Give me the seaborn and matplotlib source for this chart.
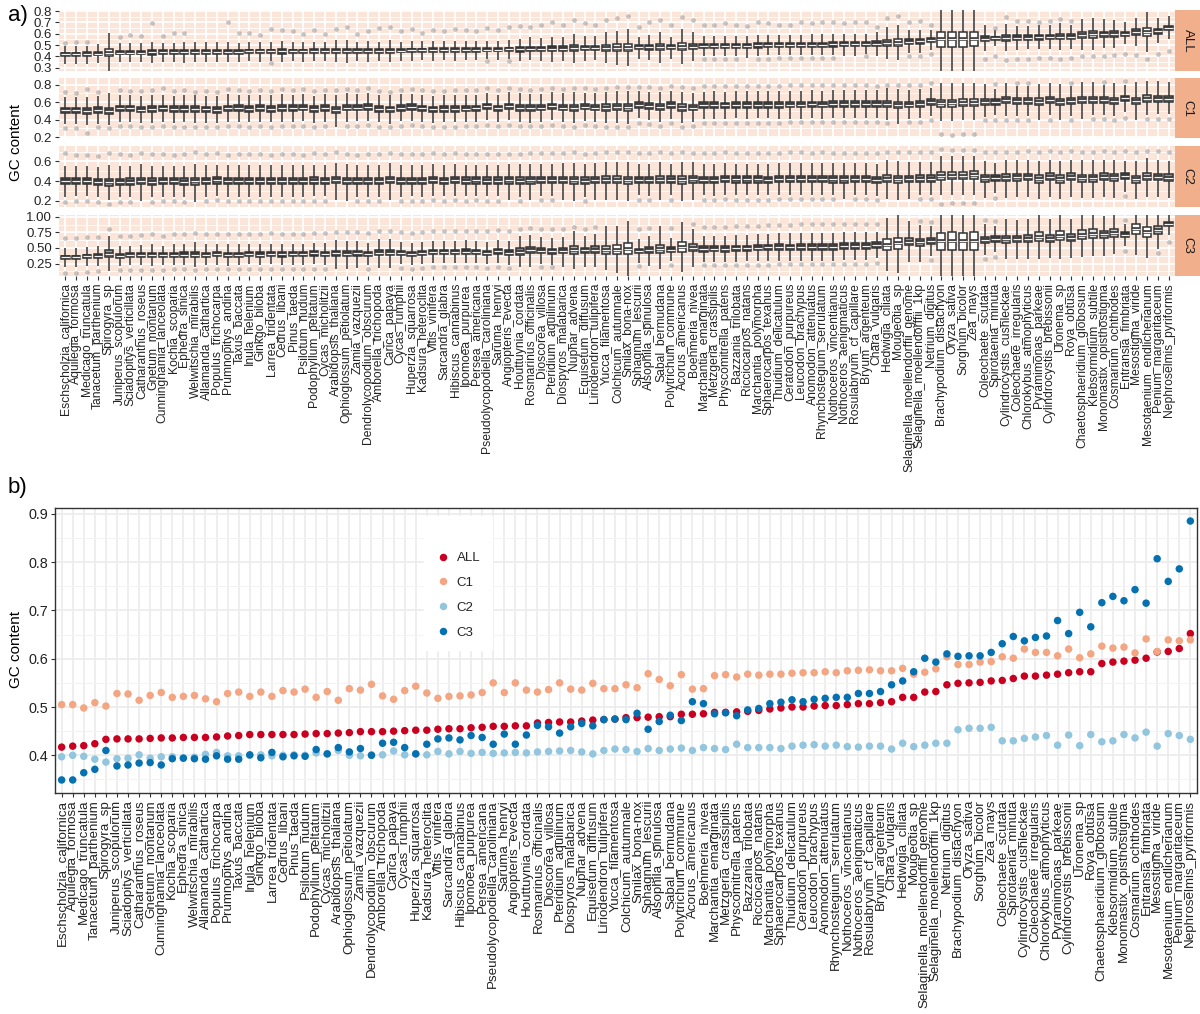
import numpy as np
import pandas as pd
import matplotlib
matplotlib.use("Agg")
import matplotlib.pyplot as plt
import matplotlib.patheffects as pe
from matplotlib.ticker import MultipleLocator, FormatStrFormatter, FixedLocator
import seaborn as sns

species = [
    "Eschscholzia_californica", "Aquilegia_formosa", "Medicago_truncatula", "Tanacetum_parthenium",
    "Spirogyra_sp", "Juniperus_scopulorum", "Sciadopitys_verticillata", "Catharanthus_roseus",
    "Gnetum_montanum", "Cunninghamia_lanceolata", "Kochia_scoparia", "Ephedra_sinica",
    "Welwitschia_mirabilis", "Allamanda_cathartica", "Populus_trichocarpa", "Prumnopitys_andina",
    "Taxus_baccata", "Inula_helenium", "Ginkgo_biloba", "Larrea_tridentata", "Cedrus_libani",
    "Pinus_taeda", "Psilotum_nudum", "Podophyllum_peltatum", "Cycas_micholitzii",
    "Arabidopsis_thaliana", "Ophioglossum_petiolatum", "Zamia_vazquezii",
    "Dendrolycopodium_obscurum", "Amborella_trichopoda", "Carica_papaya", "Cycas_rumphii",
    "Huperzia_squarrosa", "Kadsura_heteroclita", "Vitis_vinifera", "Sarcandra_glabra",
    "Hibiscus_cannabinus", "Ipomoea_purpurea", "Persea_americana",
    "Pseudolycopodiella_caroliniana", "Saruma_henryi", "Angiopteris_evecta", "Houttuynia_cordata",
    "Rosmarinus_officinalis", "Dioscorea_villosa", "Pteridium_aquilinum", "Diospyros_malabarica",
    "Nuphar_advena", "Equisetum_diffusum", "Liriodendron_tulipifera", "Yucca_filamentosa",
    "Colchicum_autumnale", "Smilax_bona-nox", "Sphagnum_lescurii", "Alsophila_spinulosa",
    "Sabal_bermudana", "Polytrichum_commune", "Acorus_americanus", "Boehmeria_nivea",
    "Marchantia_emarginata", "Metzgeria_crassipilis", "Physcomitrella_patens",
    "Bazzania_trilobata", "Ricciocarpos_natans", "Marchantia_polymorpha",
    "Sphaerocarpos_texanus", "Thuidium_delicatulum", "Ceratodon_purpureus", "Leucodon_brachypus",
    "Anomodon_attenuatus", "Rhynchostegium_serrulatum", "Nothoceros_vincentianus",
    "Nothoceros_aenigmaticus", "Rosulabryum_cf_capillare", "Bryum_argenteum", "Chara_vulgaris",
    "Hedwigia_ciliata", "Mougeotia_sp", "Selaginella_moellendorffii_genome",
    "Selaginella_moellendorffii_1kp", "Netrium_digitus", "Brachypodium_distachyon",
    "Oryza_sativa", "Sorghum_bicolor", "Zea_mays", "Coleochaete_scutata", "Spirotaenia_minuta",
    "Cylindrocystis_cushleckae", "Coleochaete_irregularis", "Chlorokybus_atmophyticus",
    "Pyramimonas_parkeae", "Cylindrocystis_brebissonii", "Uronema_sp", "Roya_obtusa",
    "Chaetosphaeridium_globosum", "Klebsormidium_subtile", "Monomastix_opisthostigma",
    "Cosmarium_ochthodes", "Entransia_fimbriata", "Mesostigma_viride",
    "Mesotaenium_endlicherianum", "Penium_margaritaceum", "Nephroselmis_pyriformis",
]

components = ["ALL", "C1", "C2", "C3"]

# median GC content per species (all codon positions, then positions 1-3)
gc_all = [
    0.417, 0.419, 0.420, 0.424, 0.433, 0.434, 0.434, 0.434, 0.435, 0.436,
    0.436, 0.437, 0.437, 0.437, 0.438, 0.440, 0.441, 0.443, 0.443, 0.443,
    0.443, 0.443, 0.444, 0.445, 0.445, 0.446, 0.447, 0.449, 0.449, 0.449,
    0.450, 0.451, 0.452, 0.452, 0.454, 0.455, 0.455, 0.457, 0.458, 0.460,
    0.460, 0.461, 0.461, 0.467, 0.468, 0.469, 0.469, 0.471, 0.473, 0.474,
    0.475, 0.478, 0.478, 0.479, 0.480, 0.480, 0.485, 0.485, 0.486, 0.489,
    0.489, 0.490, 0.491, 0.493, 0.496, 0.498, 0.500, 0.500, 0.502, 0.503,
    0.503, 0.505, 0.507, 0.507, 0.509, 0.511, 0.520, 0.520, 0.531, 0.532,
    0.546, 0.549, 0.550, 0.551, 0.554, 0.555, 0.559, 0.564, 0.564, 0.566,
    0.568, 0.571, 0.573, 0.573, 0.590, 0.593, 0.595, 0.597, 0.601, 0.614,
    0.615, 0.621, 0.652,
]
gc_c1 = [
    0.505, 0.505, 0.498, 0.509, 0.502, 0.528, 0.527, 0.514, 0.524, 0.530,
    0.520, 0.522, 0.524, 0.517, 0.511, 0.528, 0.531, 0.522, 0.531, 0.522,
    0.534, 0.531, 0.537, 0.520, 0.532, 0.514, 0.538, 0.535, 0.547, 0.523,
    0.516, 0.534, 0.543, 0.529, 0.518, 0.522, 0.523, 0.525, 0.530, 0.550,
    0.530, 0.550, 0.535, 0.531, 0.536, 0.550, 0.537, 0.535, 0.549, 0.538,
    0.538, 0.546, 0.540, 0.569, 0.557, 0.544, 0.567, 0.537, 0.538, 0.565,
    0.567, 0.562, 0.568, 0.566, 0.568, 0.568, 0.570, 0.571, 0.571, 0.573,
    0.571, 0.575, 0.576, 0.577, 0.575, 0.575, 0.580, 0.568, 0.572, 0.579,
    0.604, 0.588, 0.588, 0.593, 0.594, 0.604, 0.601, 0.620, 0.613, 0.613,
    0.606, 0.620, 0.602, 0.610, 0.626, 0.622, 0.624, 0.612, 0.641, 0.615,
    0.639, 0.637, 0.639,
]
gc_c2 = [
    0.397, 0.400, 0.398, 0.392, 0.386, 0.393, 0.394, 0.401, 0.394, 0.397,
    0.397, 0.395, 0.396, 0.402, 0.406, 0.399, 0.399, 0.400, 0.401, 0.399,
    0.400, 0.401, 0.400, 0.405, 0.403, 0.410, 0.400, 0.399, 0.401, 0.401,
    0.409, 0.401, 0.403, 0.401, 0.408, 0.403, 0.408, 0.404, 0.406, 0.404,
    0.405, 0.406, 0.405, 0.407, 0.408, 0.409, 0.410, 0.407, 0.403, 0.410,
    0.413, 0.412, 0.408, 0.414, 0.410, 0.413, 0.415, 0.410, 0.416, 0.414,
    0.412, 0.423, 0.416, 0.416, 0.416, 0.414, 0.419, 0.421, 0.422, 0.419,
    0.421, 0.418, 0.417, 0.419, 0.419, 0.413, 0.425, 0.418, 0.421, 0.425,
    0.425, 0.453, 0.456, 0.456, 0.458, 0.430, 0.430, 0.435, 0.438, 0.441,
    0.421, 0.442, 0.420, 0.443, 0.428, 0.430, 0.443, 0.436, 0.448, 0.419,
    0.445, 0.441, 0.433,
]
gc_c3 = [
    0.349, 0.349, 0.364, 0.371, 0.410, 0.378, 0.380, 0.384, 0.385, 0.380,
    0.393, 0.394, 0.393, 0.392, 0.399, 0.392, 0.392, 0.401, 0.395, 0.406,
    0.397, 0.399, 0.398, 0.412, 0.403, 0.416, 0.407, 0.414, 0.400, 0.425,
    0.427, 0.416, 0.403, 0.423, 0.434, 0.436, 0.432, 0.441, 0.437, 0.423,
    0.444, 0.423, 0.442, 0.462, 0.459, 0.446, 0.459, 0.466, 0.461, 0.474,
    0.475, 0.474, 0.487, 0.454, 0.470, 0.483, 0.472, 0.511, 0.507, 0.486,
    0.488, 0.482, 0.494, 0.497, 0.507, 0.510, 0.515, 0.511, 0.516, 0.518,
    0.520, 0.520, 0.528, 0.528, 0.532, 0.546, 0.554, 0.573, 0.601, 0.593,
    0.610, 0.605, 0.606, 0.606, 0.613, 0.631, 0.646, 0.637, 0.644, 0.647,
    0.679, 0.652, 0.696, 0.666, 0.716, 0.729, 0.720, 0.743, 0.715, 0.807,
    0.760, 0.786, 0.885,
]

# interquartile range of the per-gene GC distributions
iqr_all = [
    0.030, 0.030, 0.030, 0.032, 0.065, 0.032, 0.032, 0.032, 0.038, 0.032,
    0.032, 0.036, 0.036, 0.032, 0.032, 0.036, 0.032, 0.032, 0.032, 0.032,
    0.036, 0.032, 0.032, 0.032, 0.032, 0.038, 0.038, 0.032, 0.036, 0.032,
    0.038, 0.032, 0.032, 0.032, 0.032, 0.032, 0.032, 0.032, 0.032, 0.032,
    0.032, 0.032, 0.038, 0.040, 0.038, 0.040, 0.042, 0.050, 0.042, 0.042,
    0.055, 0.060, 0.065, 0.036, 0.042, 0.055, 0.036, 0.062, 0.050, 0.036,
    0.036, 0.036, 0.036, 0.036, 0.036, 0.036, 0.036, 0.036, 0.036, 0.036,
    0.036, 0.036, 0.036, 0.036, 0.036, 0.042, 0.055, 0.062, 0.042, 0.042,
    0.036, 0.130, 0.135, 0.130, 0.130, 0.042, 0.028, 0.048, 0.042, 0.042,
    0.042, 0.042, 0.048, 0.042, 0.055, 0.055, 0.048, 0.048, 0.036, 0.048,
    0.070, 0.042, 0.040,
]
iqr_c1 = [
    0.062, 0.062, 0.066, 0.062, 0.066, 0.062, 0.062, 0.062, 0.064, 0.062,
    0.062, 0.062, 0.064, 0.062, 0.062, 0.064, 0.062, 0.062, 0.062, 0.062,
    0.064, 0.062, 0.062, 0.062, 0.062, 0.068, 0.066, 0.062, 0.064, 0.062,
    0.066, 0.062, 0.062, 0.062, 0.062, 0.062, 0.062, 0.062, 0.062, 0.062,
    0.062, 0.064, 0.066, 0.066, 0.064, 0.064, 0.066, 0.070, 0.064, 0.066,
    0.070, 0.072, 0.074, 0.062, 0.064, 0.070, 0.062, 0.072, 0.068, 0.062,
    0.062, 0.062, 0.062, 0.062, 0.062, 0.062, 0.064, 0.064, 0.064, 0.064,
    0.064, 0.064, 0.064, 0.064, 0.064, 0.064, 0.072, 0.074, 0.066, 0.066,
    0.064, 0.080, 0.080, 0.080, 0.080, 0.070, 0.060, 0.070, 0.068, 0.068,
    0.072, 0.068, 0.072, 0.068, 0.072, 0.070, 0.068, 0.070, 0.060, 0.074,
    0.074, 0.068, 0.068,
]
iqr_c2 = [
    0.062, 0.062, 0.062, 0.062, 0.070, 0.064, 0.064, 0.068, 0.064, 0.064,
    0.064, 0.064, 0.070, 0.064, 0.064, 0.064, 0.064, 0.064, 0.064, 0.064,
    0.066, 0.064, 0.064, 0.064, 0.064, 0.070, 0.068, 0.064, 0.066, 0.066,
    0.068, 0.064, 0.064, 0.064, 0.064, 0.064, 0.064, 0.064, 0.064, 0.064,
    0.064, 0.066, 0.068, 0.068, 0.066, 0.066, 0.068, 0.072, 0.066, 0.068,
    0.072, 0.074, 0.076, 0.064, 0.066, 0.072, 0.064, 0.074, 0.070, 0.064,
    0.064, 0.064, 0.064, 0.064, 0.064, 0.064, 0.066, 0.066, 0.066, 0.066,
    0.066, 0.066, 0.066, 0.066, 0.066, 0.066, 0.074, 0.076, 0.068, 0.068,
    0.066, 0.080, 0.080, 0.080, 0.080, 0.070, 0.062, 0.072, 0.070, 0.070,
    0.074, 0.070, 0.074, 0.070, 0.074, 0.072, 0.070, 0.072, 0.062, 0.074,
    0.076, 0.070, 0.070,
]
iqr_c3 = [
    0.060, 0.060, 0.060, 0.062, 0.110, 0.064, 0.064, 0.066, 0.070, 0.064,
    0.066, 0.068, 0.080, 0.066, 0.066, 0.070, 0.066, 0.066, 0.066, 0.066,
    0.070, 0.066, 0.066, 0.066, 0.070, 0.085, 0.085, 0.080, 0.070, 0.090,
    0.090, 0.070, 0.070, 0.072, 0.072, 0.072, 0.072, 0.072, 0.072, 0.072,
    0.074, 0.078, 0.100, 0.100, 0.085, 0.085, 0.090, 0.120, 0.090, 0.100,
    0.130, 0.150, 0.180, 0.075, 0.090, 0.130, 0.075, 0.160, 0.120, 0.085,
    0.085, 0.085, 0.085, 0.085, 0.085, 0.085, 0.090, 0.090, 0.090, 0.090,
    0.090, 0.090, 0.090, 0.090, 0.090, 0.085, 0.170, 0.190, 0.110, 0.110,
    0.095, 0.280, 0.290, 0.280, 0.280, 0.100, 0.085, 0.120, 0.110, 0.110,
    0.140, 0.110, 0.150, 0.110, 0.140, 0.140, 0.120, 0.130, 0.070, 0.170,
    0.170, 0.120, 0.070,
]

# most extreme genes seen above and below each box
top_all = [
    0.52, 0.53, 0.53, 0.51, 0.61, 0.57, 0.59, 0.58, 0.69, 0.58,
    0.61, 0.61, 0.53, 0.53, 0.53, 0.70, 0.61, 0.61, 0.59, 0.64,
    0.63, 0.62, 0.60, 0.63, 0.60, 0.64, 0.66, 0.60, 0.62, 0.65,
    0.66, 0.62, 0.64, 0.61, 0.63, 0.62, 0.64, 0.63, 0.62, 0.65,
    0.63, 0.66, 0.67, 0.66, 0.68, 0.70, 0.68, 0.72, 0.69, 0.68,
    0.72, 0.74, 0.76, 0.66, 0.70, 0.72, 0.68, 0.75, 0.72, 0.68,
    0.68, 0.69, 0.68, 0.67, 0.70, 0.69, 0.68, 0.68, 0.70, 0.69,
    0.70, 0.70, 0.69, 0.70, 0.70, 0.66, 0.74, 0.76, 0.70, 0.71,
    0.68, 0.78, 0.785, 0.785, 0.78, 0.68, 0.65, 0.75, 0.71, 0.71,
    0.70, 0.71, 0.73, 0.71, 0.73, 0.74, 0.73, 0.71, 0.70, 0.74,
    0.74, 0.74, 0.75,
]
bot_all = [
    0.33, 0.33, 0.33, 0.35, 0.31, 0.35, 0.36, 0.35, 0.36, 0.35,
    0.35, 0.34, 0.36, 0.35, 0.35, 0.36, 0.35, 0.36, 0.35, 0.34,
    0.36, 0.36, 0.35, 0.36, 0.36, 0.35, 0.34, 0.36, 0.35, 0.36,
    0.35, 0.36, 0.36, 0.37, 0.36, 0.37, 0.36, 0.37, 0.37, 0.36,
    0.37, 0.36, 0.36, 0.37, 0.36, 0.35, 0.36, 0.34, 0.36, 0.37,
    0.35, 0.34, 0.33, 0.38, 0.37, 0.35, 0.38, 0.34, 0.36, 0.38,
    0.38, 0.38, 0.38, 0.39, 0.38, 0.38, 0.39, 0.39, 0.39, 0.39,
    0.39, 0.39, 0.40, 0.40, 0.40, 0.40, 0.38, 0.37, 0.40, 0.40,
    0.42, 0.296, 0.30, 0.31, 0.31, 0.38, 0.40, 0.37, 0.38, 0.38,
    0.39, 0.39, 0.38, 0.39, 0.40, 0.40, 0.40, 0.41, 0.42, 0.41,
    0.38, 0.42, 0.45,
]
top_c1 = [
    0.72, 0.70, 0.75, 0.72, 0.70, 0.74, 0.73, 0.73, 0.74, 0.76,
    0.73, 0.74, 0.72, 0.73, 0.72, 0.75, 0.74, 0.73, 0.74, 0.73,
    0.75, 0.74, 0.75, 0.73, 0.74, 0.74, 0.75, 0.74, 0.76, 0.73,
    0.72, 0.74, 0.75, 0.74, 0.73, 0.73, 0.74, 0.74, 0.74, 0.76,
    0.74, 0.76, 0.75, 0.74, 0.75, 0.76, 0.75, 0.76, 0.76, 0.75,
    0.76, 0.77, 0.77, 0.77, 0.77, 0.76, 0.78, 0.77, 0.76, 0.78,
    0.78, 0.78, 0.78, 0.78, 0.78, 0.78, 0.78, 0.79, 0.79, 0.79,
    0.79, 0.79, 0.79, 0.79, 0.79, 0.78, 0.80, 0.80, 0.80, 0.80,
    0.82, 0.82, 0.82, 0.82, 0.82, 0.81, 0.81, 0.82, 0.82, 0.82,
    0.81, 0.82, 0.81, 0.82, 0.83, 0.83, 0.83, 0.82, 0.84, 0.83,
    0.844, 0.84, 0.83,
]
bot_c1 = [
    0.30, 0.30, 0.25, 0.31, 0.30, 0.33, 0.33, 0.31, 0.32, 0.33,
    0.32, 0.32, 0.32, 0.31, 0.31, 0.33, 0.33, 0.32, 0.33, 0.32,
    0.33, 0.33, 0.33, 0.32, 0.33, 0.31, 0.33, 0.33, 0.34, 0.32,
    0.31, 0.33, 0.34, 0.33, 0.32, 0.32, 0.32, 0.33, 0.33, 0.34,
    0.33, 0.34, 0.33, 0.33, 0.33, 0.34, 0.33, 0.32, 0.34, 0.33,
    0.32, 0.32, 0.31, 0.36, 0.35, 0.33, 0.36, 0.32, 0.33, 0.36,
    0.36, 0.36, 0.36, 0.36, 0.36, 0.36, 0.36, 0.37, 0.37, 0.37,
    0.37, 0.37, 0.37, 0.37, 0.37, 0.37, 0.36, 0.35, 0.37, 0.37,
    0.39, 0.23, 0.221, 0.24, 0.24, 0.39, 0.39, 0.40, 0.40, 0.40,
    0.39, 0.40, 0.39, 0.40, 0.41, 0.41, 0.41, 0.40, 0.42, 0.40,
    0.41, 0.41, 0.41,
]
top_c2 = [
    0.68, 0.66, 0.66, 0.65, 0.68, 0.67, 0.66, 0.68, 0.67, 0.67,
    0.66, 0.67, 0.69, 0.67, 0.68, 0.66, 0.67, 0.67, 0.67, 0.66,
    0.67, 0.67, 0.66, 0.68, 0.67, 0.69, 0.67, 0.66, 0.67, 0.67,
    0.68, 0.67, 0.67, 0.67, 0.68, 0.67, 0.68, 0.67, 0.67, 0.67,
    0.67, 0.67, 0.67, 0.68, 0.68, 0.68, 0.68, 0.69, 0.67, 0.68,
    0.69, 0.69, 0.70, 0.68, 0.68, 0.69, 0.68, 0.70, 0.68, 0.68,
    0.68, 0.69, 0.68, 0.68, 0.68, 0.68, 0.68, 0.69, 0.69, 0.68,
    0.69, 0.68, 0.68, 0.68, 0.68, 0.68, 0.70, 0.70, 0.69, 0.69,
    0.69, 0.728, 0.72, 0.72, 0.72, 0.70, 0.69, 0.70, 0.70, 0.71,
    0.70, 0.71, 0.70, 0.71, 0.70, 0.70, 0.71, 0.70, 0.71, 0.69,
    0.71, 0.71, 0.70,
]
bot_c2 = [
    0.19, 0.20, 0.20, 0.19, 0.17, 0.19, 0.19, 0.20, 0.19, 0.20,
    0.20, 0.19, 0.19, 0.20, 0.21, 0.20, 0.20, 0.20, 0.20, 0.20,
    0.20, 0.20, 0.20, 0.20, 0.20, 0.21, 0.20, 0.20, 0.20, 0.20,
    0.21, 0.20, 0.20, 0.20, 0.21, 0.20, 0.21, 0.20, 0.21, 0.20,
    0.20, 0.21, 0.20, 0.21, 0.21, 0.21, 0.21, 0.20, 0.20, 0.21,
    0.21, 0.21, 0.20, 0.21, 0.21, 0.21, 0.21, 0.20, 0.21, 0.21,
    0.21, 0.22, 0.21, 0.21, 0.21, 0.21, 0.22, 0.22, 0.22, 0.22,
    0.22, 0.22, 0.22, 0.22, 0.22, 0.21, 0.22, 0.21, 0.22, 0.22,
    0.22, 0.164, 0.18, 0.18, 0.18, 0.23, 0.23, 0.23, 0.24, 0.24,
    0.22, 0.24, 0.22, 0.24, 0.23, 0.23, 0.24, 0.23, 0.25, 0.22,
    0.24, 0.24, 0.23,
]
top_c3 = [
    0.66, 0.66, 0.68, 0.68, 0.80, 0.70, 0.70, 0.71, 0.72, 0.70,
    0.72, 0.72, 0.74, 0.72, 0.73, 0.72, 0.72, 0.73, 0.72, 0.74,
    0.73, 0.73, 0.73, 0.74, 0.74, 0.76, 0.75, 0.76, 0.74, 0.77,
    0.77, 0.76, 0.74, 0.76, 0.78, 0.78, 0.77, 0.78, 0.78, 0.77,
    0.79, 0.77, 0.80, 0.82, 0.81, 0.80, 0.81, 0.84, 0.81, 0.83,
    0.85, 0.86, 0.90, 0.80, 0.82, 0.86, 0.82, 0.92, 0.88, 0.84,
    0.84, 0.84, 0.85, 0.86, 0.86, 0.87, 0.87, 0.87, 0.88, 0.88,
    0.88, 0.88, 0.89, 0.89, 0.89, 0.88, 0.95, 0.97, 0.93, 0.93,
    0.92, 0.985, 0.98, 0.98, 0.98, 0.95, 0.94, 0.96, 0.95, 0.96,
    0.98, 0.96, 0.98, 0.97, 0.98, 0.98, 0.98, 0.98, 0.95, 0.985,
    0.985, 0.98, 0.985,
]
bot_c3 = [
    0.10, 0.0945, 0.12, 0.13, 0.14, 0.14, 0.15, 0.15, 0.15, 0.14,
    0.16, 0.16, 0.15, 0.16, 0.17, 0.16, 0.16, 0.17, 0.16, 0.17,
    0.16, 0.17, 0.17, 0.17, 0.17, 0.17, 0.17, 0.18, 0.17, 0.18,
    0.18, 0.18, 0.17, 0.18, 0.19, 0.19, 0.19, 0.19, 0.19, 0.18,
    0.19, 0.18, 0.19, 0.20, 0.20, 0.19, 0.20, 0.18, 0.20, 0.20,
    0.19, 0.18, 0.17, 0.21, 0.21, 0.19, 0.22, 0.18, 0.20, 0.22,
    0.22, 0.22, 0.22, 0.23, 0.23, 0.23, 0.24, 0.24, 0.24, 0.24,
    0.24, 0.24, 0.25, 0.25, 0.25, 0.26, 0.22, 0.22, 0.28, 0.28,
    0.30, 0.18, 0.18, 0.18, 0.18, 0.32, 0.35, 0.32, 0.33, 0.33,
    0.32, 0.34, 0.33, 0.34, 0.36, 0.38, 0.37, 0.40, 0.45, 0.40,
    0.38, 0.42, 0.60,
]

sns.set_theme(style="white")
plt.rcParams["font.family"] = ["Liberation Sans", "DejaVu Sans"]

panel_bg = "#FBE4D8"
strip_bg = "#F2AF8B"
text_col = "#222222"
edge_col = "#333333"
point_cols = {"ALL": "#CA0020", "C1": "#F4A582", "C2": "#92C5DE", "C3": "#0571B0"}

W, H = 1200, 1014
fig = plt.figure(figsize=(W / 100, H / 100), dpi=100)


def px_axes(left, top, right, bottom):
    return fig.add_axes([left / W, 1 - bottom / H, (right - left) / W, (bottom - top) / H])


# ---------------------------------------------------------------- a) box plots per codon position
rows = {
    "ALL": dict(med=gc_all, iqr=iqr_all, top=top_all, bot=bot_all, box=(10, 71),
                ylim=(0.271, 0.809), ticks=[0.3, 0.4, 0.5, 0.6, 0.7, 0.8],
                minor=0.05, fmt="%.1f", shade=(0.038, 0.062)),
    "C1": dict(med=gc_c1, iqr=iqr_c1, top=top_c1, bot=bot_c1, box=(78, 138),
               ylim=(0.19, 0.875), ticks=[0.2, 0.4, 0.6, 0.8],
               minor=0.1, fmt="%.1f", shade=(0.056, 0.085)),
    "C2": dict(med=gc_c2, iqr=iqr_c2, top=top_c2, bot=bot_c2, box=(146, 207),
               ylim=(0.136, 0.756), ticks=[0.2, 0.4, 0.6],
               minor=0.1, fmt="%.1f", shade=(0.058, 0.085)),
    "C3": dict(med=gc_c3, iqr=iqr_c3, top=top_c3, bot=bot_c3, box=(215, 276),
               ylim=(0.05, 1.03), ticks=[0.25, 0.5, 0.75, 1.0],
               minor=0.125, fmt="%.2f", shade=(0.07, 0.15)),
}

x_left, x_right = 59, 1175
n = len(species)

for comp in components:
    cfg = rows[comp]
    recs = []
    fills = []
    lo, hi = cfg["shade"]
    for sp, m, w, t_out, b_out in zip(species, cfg["med"], cfg["iqr"], cfg["top"], cfg["bot"]):
        q1, q3 = m - w / 2, m + w / 2
        # nine genes per species: extremes, whisker ends, doubled quartiles and the median
        for v in (b_out, q1 - 2 * w, q1, q1, m, q3, q3, q3 + 2 * w, t_out):
            recs.append((sp, v))
        t = float(np.clip((w - lo) / (hi - lo), 0, 1))
        g = 0.2 + 0.8 * t
        fills.append((g, g, g))
    df = pd.DataFrame(recs, columns=["species", "gc"])

    top, bottom = cfg["box"]
    ax = px_axes(x_left, top, x_right, bottom)
    ax.set_facecolor(panel_bg)
    sns.boxplot(
        data=df, x="species", y="gc", order=species, color="#333333",
        width=0.75, linecolor=edge_col, linewidth=1.1, showcaps=False, whis=2.5,
        fliersize=3.4, ax=ax,
        flierprops=dict(marker="o", markerfacecolor="#8c8c8c", markeredgecolor="none", alpha=0.5),
        medianprops=dict(color="#f2f2f2", linewidth=0.9,
                         path_effects=[pe.Stroke(linewidth=2.6, foreground=edge_col), pe.Normal()]),
    )
    boxes = list(ax.patches)
    for p, c in zip(boxes, fills):
        p.set_facecolor(c)
        p.set_edgecolor(edge_col)
    ax.set_xlim(-0.6, n - 0.4)
    ax.set_ylim(*cfg["ylim"])
    ax.yaxis.set_major_locator(FixedLocator(cfg["ticks"]))
    ax.yaxis.set_major_formatter(FormatStrFormatter(cfg["fmt"]))
    ax.yaxis.set_minor_locator(MultipleLocator(cfg["minor"]))
    ax.set_axisbelow(True)
    ax.grid(which="major", color="white", linewidth=1.3)
    ax.grid(which="minor", axis="y", color="white", linewidth=0.6)
    for s in ax.spines.values():
        s.set_visible(False)
    ax.set_xlabel("")
    ax.set_ylabel("")
    ax.tick_params(axis="y", which="major", left=True, length=3, width=0.8, color=edge_col,
                   labelsize=9.5, labelcolor=text_col, pad=2)
    ax.tick_params(axis="y", which="minor", left=False)
    if comp == "C3":
        ax.tick_params(axis="x", bottom=True, length=3, width=0.8, color=edge_col,
                       labelsize=8.7, labelcolor=text_col, pad=2)
        ax.set_xticks(range(n))
        ax.set_xticklabels(species, rotation=90)
    else:
        ax.tick_params(axis="x", bottom=False, labelbottom=False)

    sax = px_axes(x_right, top, W, bottom)
    sax.set_facecolor(strip_bg)
    sax.set_xticks([])
    sax.set_yticks([])
    for s in sax.spines.values():
        s.set_visible(False)
    sax.text(0.5, 0.5, comp, rotation=-90, ha="center", va="center", fontsize=9.5,
             color="#1a1a1a", transform=sax.transAxes)

fig.text(16 / W, 1 - 143 / H, "GC content", rotation=90, ha="center", va="center",
         fontsize=11, color="black")
fig.text(8 / W, 1 - 16 / H, "a)", ha="left", va="center", fontsize=16, color="black")

# ---------------------------------------------------------------- b) medians side by side
long = pd.DataFrame({
    "species": species * 4,
    "component": sum([[c] * n for c in components], []),
    "gc": gc_all + gc_c1 + gc_c2 + gc_c3,
})

axb = px_axes(55, 508, 1197, 793)
sns.stripplot(data=long, x="species", y="gc", hue="component", order=species, hue_order=components,
              palette=point_cols, jitter=False, dodge=False, size=5.4, linewidth=0, ax=axb)
axb.set_xlim(-0.6, n - 0.4)
axb.set_ylim(0.322, 0.912)
axb.yaxis.set_major_locator(MultipleLocator(0.1))
axb.yaxis.set_major_formatter(FormatStrFormatter("%.1f"))
axb.yaxis.set_minor_locator(MultipleLocator(0.05))
axb.set_axisbelow(True)
axb.grid(which="major", color="#EBEBEB", linewidth=1.2)
axb.grid(which="minor", axis="y", color="#F3F3F3", linewidth=0.7)
for s in axb.spines.values():
    s.set_visible(True)
    s.set_color(edge_col)
    s.set_linewidth(1.0)
axb.set_xlabel("")
axb.set_ylabel("")
axb.tick_params(axis="y", which="major", left=True, length=3, width=0.8, color=edge_col,
                labelsize=10.4, labelcolor=text_col, pad=2)
axb.tick_params(axis="y", which="minor", left=False)
axb.tick_params(axis="x", bottom=True, length=3, width=0.8, color=edge_col,
                labelsize=9.6, labelcolor=text_col, pad=2)
axb.set_xticks(range(n))
axb.set_xticklabels(species, rotation=90)

handles, labels = axb.get_legend_handles_labels()
leg = axb.legend(handles, labels, title=" ", loc="upper left", bbox_to_anchor=((417 - 55) / 1142, 1 - 1 / 285),
                 frameon=True, fancybox=False, framealpha=1, edgecolor="white", facecolor="white",
                 fontsize=9.5, title_fontsize=9.5, labelspacing=0.95, handletextpad=0.4,
                 borderpad=0.9, handlelength=1.2, markerscale=1.0)

fig.text(16 / W, 1 - 650 / H, "GC content", rotation=90, ha="center", va="center",
         fontsize=11, color="black")
fig.text(8 / W, 1 - 487 / H, "b)", ha="left", va="center", fontsize=16, color="black")

fig.savefig("out.png", dpi=100)
